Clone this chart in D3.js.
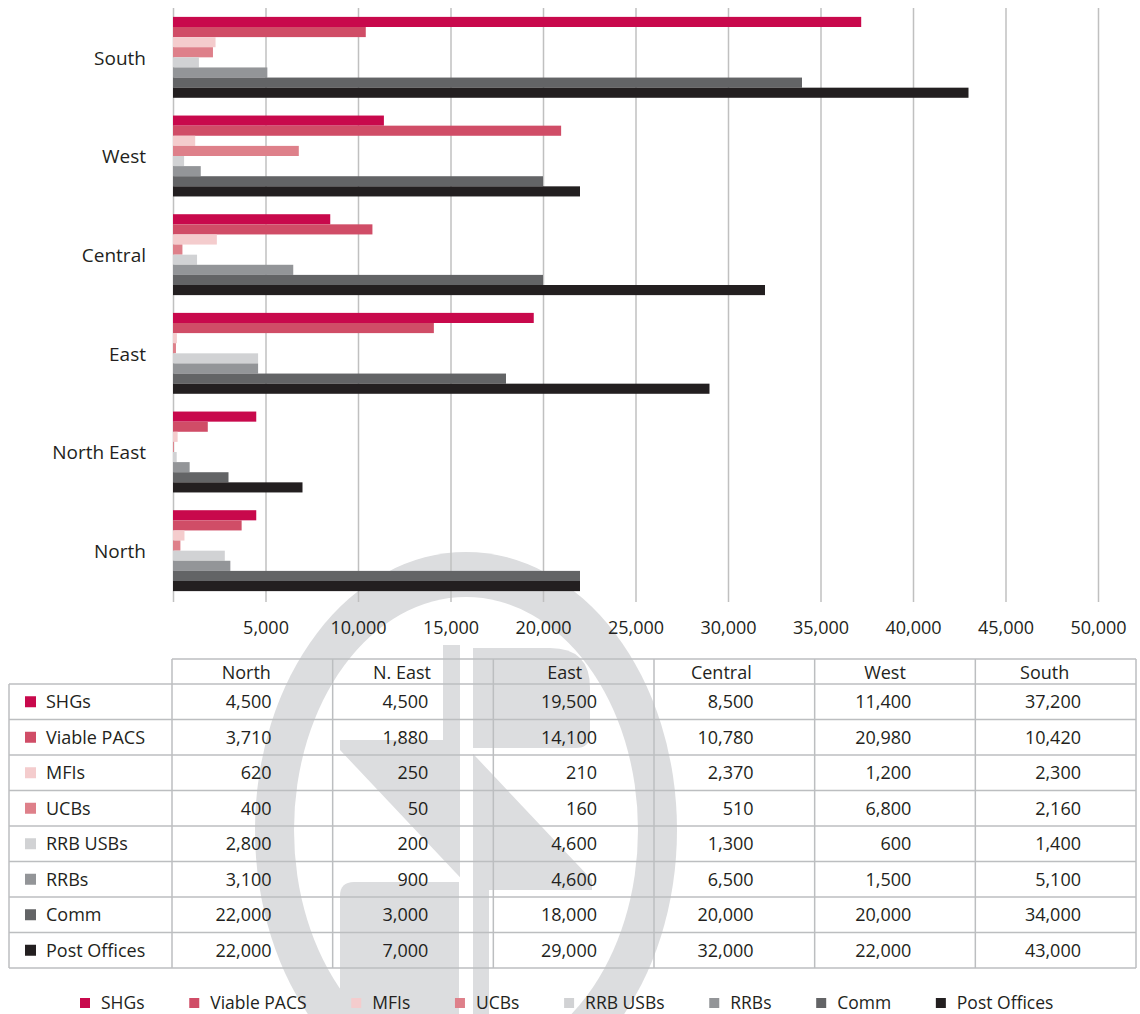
<!DOCTYPE html>
<html>
<head>
<meta charset="utf-8">
<script src="https://cdn.jsdelivr.net/npm/d3@7"></script>
<style>
	body { margin: 0; background: #fff; }
	text { font-family: "Open Sans", sans-serif; fill: #231f20; }
</style>
</head>
<body>
<div class="container"></div>
<script>

// regions, bottom to top as in the chart
var regions = ["North", "North East", "East", "Central", "West", "South"];
var tableHeaders = ["North", "N. East", "East", "Central", "West", "South"];

var seriesNames = ["SHGs", "Viable PACS", "MFIs", "UCBs", "RRB USBs", "RRBs", "Comm", "Post Offices"];
var seriesColors = ["#c8094c", "#d04d67", "#f4cccd", "#de808a", "#d1d2d4", "#939598", "#636466", "#231f20"];

var shgs        = [4500, 4500, 19500, 8500, 11400, 37200];
var viablePacs  = [3710, 1880, 14100, 10780, 20980, 10420];
var mfis        = [620, 250, 210, 2370, 1200, 2300];
var ucbs        = [400, 50, 160, 510, 6800, 2160];
var rrbUsbs     = [2800, 200, 4600, 1300, 600, 1400];
var rrbs        = [3100, 900, 4600, 6500, 1500, 5100];
var comm        = [22000, 3000, 18000, 20000, 20000, 34000];
var postOffices = [22000, 7000, 29000, 32000, 22000, 43000];

var xTicks = [0, 5000, 10000, 15000, 20000, 25000, 30000, 35000, 40000, 45000, 50000];

var seriesValues = [shgs, viablePacs, mfis, ucbs, rrbUsbs, rrbs, comm, postOffices];
var fmt = d3.format(",");

// small per-column nudges, the table text isn't quite centred in the source
var headShift = [6, 11, 9, 13, 10, 11];
var valuePad  = [61, 65, 57, 61, 64, 55];

function makeStage(w, h) {
	return d3.select(".container")
			 .append("svg")
			 .attr("width", w)
			 .attr("height", h);
}

function drawWatermark(stage) {
	var g = stage.append("g").attr("fill", "#dcdddf");
	var cx = 466, cy = 830;

	// thick ring
	g.append("ellipse").attr("cx", cx).attr("cy", cy).attr("rx", 211).attr("ry", 278);
	g.append("ellipse").attr("cx", cx).attr("cy", cy).attr("rx", 172).attr("ry", 233).attr("fill", "#fff");

	// key shape inside
	g.append("rect").attr("x", 443).attr("y", 645).attr("width", 17).attr("height", 115);
	g.append("path").attr("d", "M473,648 H550 Q590,648 590,688 V734 Q590,748 576,748 H473 Z");
	g.append("polygon").attr("points", "340,740 460,740 592,880 592,890 472,890 340,750");
	g.append("path").attr("d", "M459,1030 H340 V896 Q340,882 354,882 H459 Z");
	g.append("rect").attr("x", 472).attr("y", 870).attr("width", 17).attr("height", 160);
	g.append("rect").attr("x", 460).attr("y", 640).attr("width", 13).attr("height", 400).attr("fill", "#fff");
}

function drawChart(stage) {
	var x = d3.scaleLinear().domain([0, 50000]).range([173, 1098]);
	var y = d3.scaleBand()
			  .domain(regions.slice().reverse())
			  .range([8, 600])
			  .paddingInner(0.18)
			  .paddingOuter(0.09);
	var ySub = d3.scaleBand().domain(seriesNames).range([0, y.bandwidth()]);

	// gridlines + tick labels
	var xAxis = stage.append("g")
		 .attr("transform", "translate(0,602)")
		 .call(d3.axisBottom(x)
				 .tickValues(xTicks)
				 .tickSize(-594)
				 .tickPadding(19)
				 .tickFormat(function (d) { return d === 0 ? "" : fmt(d); }));
	xAxis.select(".domain").remove();
	xAxis.selectAll("line").attr("stroke", "#c0c0c0").attr("stroke-width", 1.5);
	xAxis.selectAll("text").style("font-size", "18px").attr("fill", "#231f20");

	// bars
	var groups = stage.selectAll(".region")
		 .data(regions)
		 .enter()
		 .append("g")
		 .attr("class", "region")
		 .attr("transform", function (d) { return "translate(0," + y(d) + ")"; });

	groups.selectAll("rect")
		  .data(function (d, i) {
			  return seriesNames.map(function (s, j) {
				  return {name: s, value: seriesValues[j][i], color: seriesColors[j]};
			  });
		  })
		  .enter()
		  .append("rect")
		  .attr("x", x(0))
		  .attr("y", function (d) { return ySub(d.name); })
		  .attr("width", function (d) { return x(d.value) - x(0); })
		  .attr("height", ySub.bandwidth())
		  .attr("fill", function (d) { return d.color; });

	// region labels
	var yAxis = stage.append("g")
		 .attr("transform", "translate(" + x(0) + ",0)")
		 .call(d3.axisLeft(y).tickSize(0).tickPadding(27));
	yAxis.select(".domain").remove();
	yAxis.selectAll("text")
		 .style("font-size", "19px")
		 .attr("dy", "0.38em")
		 .attr("fill", "#231f20");
}

function drawTable(stage) {
	var col = d3.scaleBand().domain(tableHeaders).range([172, 1136]);
	var row = d3.scaleBand().domain(seriesNames).range([684, 968]);
	var lineColor = "#bcbec0";
	var t = stage.append("g");

	// horizontal rules
	t.append("line").attr("x1", 172).attr("x2", 1136).attr("y1", 659).attr("y2", 659);
	t.selectAll(".hrule")
	 .data(seriesNames.concat(["end"]))
	 .enter()
	 .append("line")
	 .attr("class", "hrule")
	 .attr("x1", 9).attr("x2", 1136)
	 .attr("y1", function (d) { return d === "end" ? 968 : row(d); })
	 .attr("y2", function (d) { return d === "end" ? 968 : row(d); });
	// vertical rules
	t.append("line").attr("x1", 9).attr("x2", 9).attr("y1", 684).attr("y2", 968);
	t.selectAll(".vrule")
	 .data(tableHeaders.concat(["end"]))
	 .enter()
	 .append("line")
	 .attr("class", "vrule")
	 .attr("x1", function (d) { return d === "end" ? 1136 : col(d); })
	 .attr("x2", function (d) { return d === "end" ? 1136 : col(d); })
	 .attr("y1", 659).attr("y2", 968);
	t.selectAll("line").attr("stroke", lineColor).attr("stroke-width", 1.5);

	// header
	t.selectAll(".head")
	 .data(tableHeaders)
	 .enter()
	 .append("text")
	 .attr("x", function (d, i) { return col(d) + col.bandwidth() / 2 - headShift[i]; })
	 .attr("y", 673)
	 .attr("dy", "0.35em")
	 .attr("text-anchor", "middle")
	 .style("font-size", "18px")
	 .text(function (d) { return d; });

	// row keys
	t.selectAll(".key")
	 .data(seriesNames)
	 .enter()
	 .append("rect")
	 .attr("x", 25)
	 .attr("y", function (d) { return row(d) + row.bandwidth() / 2 - 5.5; })
	 .attr("width", 11).attr("height", 11)
	 .attr("fill", function (d, i) { return seriesColors[i]; });
	t.selectAll(".rowname")
	 .data(seriesNames)
	 .enter()
	 .append("text")
	 .attr("x", 46)
	 .attr("y", function (d) { return row(d) + row.bandwidth() / 2; })
	 .attr("dy", "0.35em")
	 .style("font-size", "18px")
	 .text(function (d) { return d; });

	// values
	seriesNames.forEach(function (s, j) {
		t.selectAll(".val" + j)
		 .data(seriesValues[j])
		 .enter()
		 .append("text")
		 .attr("x", function (d, i) { return col(tableHeaders[i]) + col.bandwidth() - valuePad[i]; })
		 .attr("y", row(s) + row.bandwidth() / 2)
		 .attr("dy", "0.35em")
		 .attr("text-anchor", "end")
		 .style("font-size", "18px")
		 .text(function (d) { return fmt(d); });
	});
}

function drawLegend(stage) {
	var lg = stage.append("g");
	var xpos = 80;
	seriesNames.forEach(function (s, i) {
		lg.append("rect")
		  .attr("x", xpos).attr("y", 998)
		  .attr("width", 10).attr("height", 10)
		  .attr("fill", seriesColors[i]);
		var label = lg.append("text")
		  .attr("x", xpos + 21).attr("y", 1003)
		  .attr("dy", "0.35em")
		  .style("font-size", "17.5px")
		  .text(s);
		xpos += 21 + label.node().getComputedTextLength() + 44.7;
	});
}

var stage = makeStage(1140, 1014);
drawWatermark(stage);
drawChart(stage);
drawTable(stage);
drawLegend(stage);

</script>
</body>
</html>
